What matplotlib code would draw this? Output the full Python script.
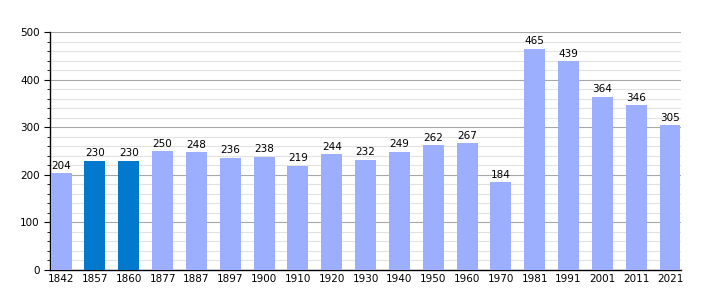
import matplotlib.pyplot as plt
from matplotlib.ticker import MultipleLocator

# population by census year
years = ['1842', '1857', '1860', '1877', '1887', '1897', '1900', '1910', '1920', '1930',
         '1940', '1950', '1960', '1970', '1981', '1991', '2001', '2011', '2021']
pop = [204, 230, 230, 250, 248, 236, 238, 219, 244, 232,
       249, 262, 267, 184, 465, 439, 364, 346, 305]
dark_years = ['1857', '1860']

colors = ['#0279cc' if y in dark_years else '#9cafff' for y in years]

fig = plt.figure(figsize=(7.1, 3.0), dpi=100)
ax = fig.add_axes([0.0704, 0.1, 0.889, 0.793])

x = range(len(years))
ax.bar(x, pop, width=0.62, color=colors, zorder=3)
for i, v in zip(x, pop):
    ax.text(i, v + 5, str(v), ha='center', va='bottom', fontsize=7.5, zorder=4)

ax.set_xlim(-0.33, len(years) - 0.67)
ax.set_ylim(0, 500)
ax.set_xticks(list(x))
ax.set_xticklabels(years, fontsize=7.5)
ax.yaxis.set_major_locator(MultipleLocator(100))
ax.yaxis.set_minor_locator(MultipleLocator(20))
ax.tick_params(axis='y', labelsize=7.5, length=4, width=0.8)
ax.tick_params(axis='y', which='minor', length=2.5, width=0.6)
ax.tick_params(axis='x', length=0, pad=3)
ax.grid(axis='y', which='major', color='#a8a8a8', lw=0.8, zorder=1)
ax.grid(axis='y', which='minor', color='#e2e2e2', lw=0.8, zorder=0)
for s in ['top', 'right']:
    ax.spines[s].set_visible(False)
ax.spines['left'].set_linewidth(1.0)
ax.spines['bottom'].set_linewidth(1.0)

fig.savefig('out.png', dpi=100)
